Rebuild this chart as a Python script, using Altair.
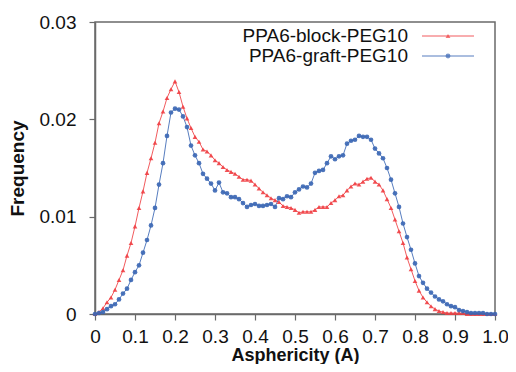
import altair as alt
import pandas as pd

x_vals = [round(i * 0.01, 2) for i in range(101)]

block = [0, 0.0002, 0.0006, 0.0012, 0.0017, 0.0025, 0.0035, 0.0045, 0.0060, 0.0073,
         0.0090, 0.0109, 0.0126, 0.0145, 0.0160, 0.0176, 0.0196, 0.0208, 0.0222, 0.0231,
         0.0239, 0.0228, 0.0213, 0.0201, 0.0191, 0.0182, 0.0177, 0.0169, 0.0167, 0.0163,
         0.0158, 0.0155, 0.0151, 0.0148, 0.0146, 0.0144, 0.0141, 0.0138, 0.0138, 0.0137,
         0.0133, 0.0129, 0.0125, 0.0122, 0.0119, 0.0117, 0.0115, 0.0111, 0.0110, 0.0109,
         0.0107, 0.0104, 0.0105, 0.0105, 0.0105, 0.0107, 0.0110, 0.0110, 0.0110, 0.0114,
         0.0117, 0.0121, 0.0122, 0.0127, 0.0131, 0.0134, 0.0133, 0.0136, 0.0139, 0.0140,
         0.0136, 0.0133, 0.0127, 0.0118, 0.0109, 0.0097, 0.0085, 0.0073, 0.0058, 0.0046,
         0.0034, 0.0024, 0.0017, 0.0012, 0.0008, 0.0005, 0.0003, 0.0002, 0.0001, 0.0001,
         0.0001, 0.0001, 0.0001, 0.0, 0.0, 0.0, 0.0, 0.0, 0.0, 0.0, 0.0]

graft = [0, 0.0001, 0.0002, 0.0005, 0.0008, 0.0010, 0.0015, 0.0021, 0.0026, 0.0035,
         0.0043, 0.0050, 0.0063, 0.0076, 0.0091, 0.0109, 0.0133, 0.0155, 0.0183, 0.0207,
         0.0211, 0.0210, 0.0203, 0.0192, 0.0173, 0.0163, 0.0155, 0.0144, 0.0139, 0.0134,
         0.0127, 0.0135, 0.0125, 0.0124, 0.0120, 0.0120, 0.0118, 0.0114, 0.0110, 0.0112,
         0.0113, 0.0111, 0.0111, 0.0112, 0.0113, 0.0110, 0.0119, 0.0118, 0.0121, 0.0120,
         0.0125, 0.0128, 0.0131, 0.0130, 0.0134, 0.0145, 0.0147, 0.0148, 0.0155, 0.0162,
         0.0159, 0.0162, 0.0163, 0.0175, 0.0178, 0.0179, 0.0183, 0.0182, 0.0182, 0.0179,
         0.0170, 0.0165, 0.0160, 0.0150, 0.0138, 0.0124, 0.0110, 0.0093, 0.0079, 0.0066,
         0.0052, 0.0039, 0.0032, 0.0026, 0.0022, 0.0018, 0.0015, 0.0013, 0.0010, 0.0008,
         0.0007, 0.0004, 0.0003, 0.0002, 0.0001, 0.0001, 0.0001, 0.0001, 0.0, 0.0, 0.0]

names = ["PPA6-block-PEG10", "PPA6-graft-PEG10"]
colors = ["#ef3e42", "#3a66b4"]
shapes = ["triangle-up", "circle"]
x_ticks = [0, 0.1, 0.2, 0.3, 0.4, 0.5, 0.6, 0.7, 0.8, 0.9, 1.0]
y_ticks = [0, 0.01, 0.02, 0.03]

df = pd.DataFrame({
    "x": x_vals * 2,
    "freq": block + graft,
    "series": [names[0]] * len(block) + [names[1]] * len(graft),
})

FONT = "Liberation Sans"

xenc = alt.X("x:Q", scale=alt.Scale(domain=[0, 1], nice=False),
             axis=alt.Axis(values=x_ticks, title="Asphericity (A)", labelFlush=False,
                           labelOverlap=False,
                           labelExpr="datum.value == 0 ? '0' : format(datum.value, '.1f')"))
yenc = alt.Y("freq:Q", scale=alt.Scale(domain=[0, 0.03], nice=False),
             axis=alt.Axis(values=y_ticks, title="Frequency", labelFlush=False,
                           labelExpr="datum.value == 0 ? '0' : format(datum.value, '.2f')"))
cenc = alt.Color("series:N", scale=alt.Scale(domain=names, range=colors), legend=None)
senc = alt.Shape("series:N", scale=alt.Scale(domain=names, range=shapes), legend=None)

lines = alt.Chart(df).mark_line(strokeWidth=1, opacity=0.85).encode(x=xenc, y=yenc, color=cenc)
points = alt.Chart(df).mark_point(filled=True, size=22, opacity=0.9).encode(
    x=xenc, y=yenc, color=cenc, shape=senc)

layers = [lines, points]
rows_y = [14, 34]
for name, col, shp, ry in zip(names, colors, shapes, rows_y):
    ldf = pd.DataFrame({"label": [name]})
    layers.append(alt.Chart(ldf).mark_text(align="right", baseline="middle", font=FONT,
                                           fontSize=19, color="#111").encode(
        x=alt.value(313), y=alt.value(ry), text="label:N"))
    layers.append(alt.Chart(ldf).mark_rule(color=col, strokeWidth=1, opacity=0.85).encode(
        x=alt.value(327), x2=alt.value(379), y=alt.value(ry)))
    layers.append(alt.Chart(ldf).mark_point(filled=True, size=24, color=col, shape=shp).encode(
        x=alt.value(353), y=alt.value(ry)))

chart = alt.layer(*layers).properties(
    width=400, height=292,
    autosize=alt.AutoSizeParams(type="none"),
    padding={"left": 87, "top": 14, "right": 13, "bottom": 50},
).configure_view(stroke="#6a6a6a", strokeWidth=1.5).configure_axis(
    grid=False, domainColor="#6a6a6a", tickColor="#6a6a6a", tickSize=6, domainWidth=1.5,
    tickWidth=1.2, labelFont=FONT, labelFontSize=19, labelColor="#111",
    titleFont=FONT, titleFontSize=19, titleFontWeight="bold", titleColor="#111",
).configure_axisX(labelPadding=7, titlePadding=0, titleFontSize=18).configure_axisY(
    labelPadding=13, titlePadding=12)

chart.save("out.html", embed_options={"renderer": "svg", "actions": False})
